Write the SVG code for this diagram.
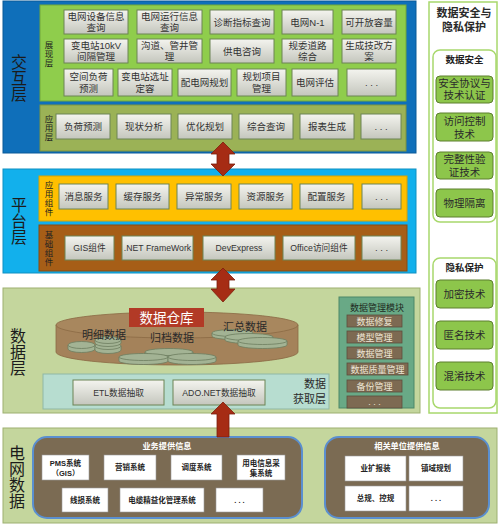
<svg xmlns="http://www.w3.org/2000/svg" width="500" height="525" viewBox="0 0 500 525">
<defs>
<linearGradient id="gb" x1="0" y1="0" x2="0" y2="1"><stop offset="0" stop-color="#f4f4ef"/><stop offset="1" stop-color="#c4c6bd"/></linearGradient>
</defs>
<style>
text{font-family:"Liberation Sans","Noto Sans CJK SC",sans-serif;}
.btn{fill:url(#gb);stroke:#6c8454;stroke-width:1;}
.bt{font-size:9.5px;fill:#333;text-anchor:middle;}
.bl{font-size:8.7px;fill:#333;text-anchor:middle;}
.big{font-size:16px;fill:#1b1b1b;text-anchor:middle;}
.sm{font-size:8.5px;fill:#222;text-anchor:middle;}
.disk{fill:#a3b394;stroke:#6d7d5f;stroke-width:0.8;}
.lbl{font-size:11px;fill:#2a2a2a;text-anchor:middle;}
.mi{fill:#7d6a52;stroke:#5c4e3c;stroke-width:0.8;}
.mt{font-size:9px;fill:#eee6d6;text-anchor:middle;}
.wb{fill:#fff;stroke:#9a9a9a;stroke-width:0.6;}
.wt{font-size:7.5px;fill:#222;font-weight:bold;text-anchor:middle;}
.biz{fill:#7b6b53;stroke:#5a8fd0;stroke-width:2;}
.bzt{font-size:8.2px;fill:#fff;font-weight:bold;text-anchor:middle;}
.gbx{fill:#8dc64b;stroke:#5d7f2f;stroke-width:1;}
.gt{font-size:10.5px;fill:#2b2b2b;text-anchor:middle;}
.pan{fill:#fff;stroke:#a8d86c;stroke-width:1.5;}
.arr{fill:#a62c14;stroke:#7c1f0c;stroke-width:0.8;}
</style>

<g id="layer-interaction">
<rect x="3" y="1" width="413" height="152" fill="#0f6fba" stroke="#0b5a98"/>
<text class="big"><tspan x="19" y="68">交</tspan><tspan x="19" y="84">互</tspan><tspan x="19" y="100">层</tspan></text>
</g>

<g id="presentation">
<rect x="40" y="5" width="366" height="96" fill="#8fcd4c" stroke="#72a83a"/>
<text class="sm"><tspan x="49" y="48">展</tspan><tspan x="49" y="57">现</tspan><tspan x="49" y="66">层</tspan></text>
<rect class="btn" x="64" y="10" width="64" height="24"/><text class="bt"><tspan x="96" y="20">电网设备信息</tspan><tspan x="96" y="31">查询</tspan></text>
<rect class="btn" x="137" y="10" width="65" height="24"/><text class="bt"><tspan x="169.5" y="20">电网运行信息</tspan><tspan x="169.5" y="31">查询</tspan></text>
<rect class="btn" x="210" y="10" width="64" height="24"/><text class="bt" x="242" y="26">诊断指标查询</text>
<rect class="btn" x="282" y="10" width="51" height="24"/><text class="bt" x="307.5" y="26">电网N-1</text>
<rect class="btn" x="342" y="10" width="54" height="24"/><text class="bt" x="369" y="26">可开放容量</text>
<rect class="btn" x="64" y="39" width="64" height="24"/><text class="bt"><tspan x="96" y="49">变电站10kV</tspan><tspan x="96" y="60">间隔管理</tspan></text>
<rect class="btn" x="137" y="39" width="65" height="24"/><text class="bt"><tspan x="169.5" y="49">沟道、管井管</tspan><tspan x="169.5" y="60">理</tspan></text>
<rect class="btn" x="210" y="39" width="64" height="24"/><text class="bt" x="242" y="55">供电咨询</text>
<rect class="btn" x="282" y="39" width="51" height="24"/><text class="bt"><tspan x="307.5" y="49">规委道路</tspan><tspan x="307.5" y="60">综合</tspan></text>
<rect class="btn" x="342" y="39" width="54" height="24"/><text class="bt"><tspan x="369" y="49">生成技改方</tspan><tspan x="369" y="60">案</tspan></text>
<rect class="btn" x="64" y="69" width="49" height="27"/><text class="bt"><tspan x="88.5" y="80">空间负荷</tspan><tspan x="88.5" y="92">预测</tspan></text>
<rect class="btn" x="118" y="69" width="54" height="27"/><text class="bt"><tspan x="145" y="80">变电站选址</tspan><tspan x="145" y="92">定容</tspan></text>
<rect class="btn" x="178" y="69" width="53" height="27"/><text class="bt" x="204.5" y="86">配电网规划</text>
<rect class="btn" x="237" y="69" width="49" height="27"/><text class="bt"><tspan x="261.5" y="80">规划项目</tspan><tspan x="261.5" y="92">管理</tspan></text>
<rect class="btn" x="292" y="69" width="46" height="27"/><text class="bt" x="315" y="86">电网评估</text>
<rect class="btn" x="347" y="69" width="49" height="27"/><text class="bt" x="371.5" y="86">. . .</text>
</g>

<g id="application">
<rect x="40" y="105" width="366" height="46" fill="#9bb256" stroke="#7e953e"/>
<text class="sm"><tspan x="49" y="122">应</tspan><tspan x="49" y="131">用</tspan><tspan x="49" y="140">层</tspan></text>
<rect class="btn" x="56" y="114" width="54" height="25"/><text class="bt" x="83" y="130">负荷预测</text>
<rect class="btn" x="117" y="114" width="54" height="25"/><text class="bt" x="144" y="130">现状分析</text>
<rect class="btn" x="178" y="114" width="54" height="25"/><text class="bt" x="205" y="130">优化规划</text>
<rect class="btn" x="239" y="114" width="54" height="25"/><text class="bt" x="266" y="130">综合查询</text>
<rect class="btn" x="300" y="114" width="54" height="25"/><text class="bt" x="327" y="130">报表生成</text>
<rect class="btn" x="361" y="114" width="40" height="25"/><text class="bt" x="381" y="130">. . .</text>
</g>

<g id="layer-platform">
<rect x="3" y="169" width="413" height="104" fill="#12b0ec" stroke="#0e90c2"/>
<text class="big"><tspan x="19" y="211">平</tspan><tspan x="19" y="227">台</tspan><tspan x="19" y="243">层</tspan></text>
</g>

<g id="app-components">
<rect x="39" y="176" width="368" height="45" fill="#ffc000" stroke="#d9a200"/>
<text class="sm"><tspan x="49" y="188">应</tspan><tspan x="49" y="197">用</tspan><tspan x="49" y="206">组</tspan><tspan x="49" y="215">件</tspan></text>
<rect class="btn" x="59" y="184" width="49" height="25"/><text class="bt" x="83.5" y="200">消息服务</text>
<rect class="btn" x="116" y="184" width="53" height="25"/><text class="bt" x="142.5" y="200">缓存服务</text>
<rect class="btn" x="177" y="184" width="54" height="25"/><text class="bt" x="204" y="200">异常服务</text>
<rect class="btn" x="239" y="184" width="53" height="25"/><text class="bt" x="265.5" y="200">资源服务</text>
<rect class="btn" x="300" y="184" width="53" height="25"/><text class="bt" x="326.5" y="200">配置服务</text>
<rect class="btn" x="362" y="184" width="39" height="25"/><text class="bt" x="381.5" y="200">. . .</text>
</g>

<g id="base-components">
<rect x="39" y="225" width="368" height="46" fill="#a65e17" stroke="#874b10"/>
<text class="sm"><tspan x="49" y="238">基</tspan><tspan x="49" y="247">础</tspan><tspan x="49" y="256">组</tspan><tspan x="49" y="265">件</tspan></text>
<rect class="btn" x="65" y="236" width="49" height="24"/><text class="bl" x="89.5" y="251">GIS组件</text>
<rect class="btn" x="122" y="236" width="71" height="24"/><text class="bl" x="157.5" y="251" font-size="8">.NET FrameWork</text>
<rect class="btn" x="203" y="236" width="72" height="24"/><text class="bl" x="239" y="251">DevExpress</text>
<rect class="btn" x="283" y="236" width="72" height="24"/><text class="bl" x="319" y="251">Office访问组件</text>
<rect class="btn" x="362" y="236" width="39" height="24"/><text class="bt" x="381.5" y="251">. . .</text>
</g>

<g id="layer-data">
<rect x="3" y="288" width="417" height="125" fill="#c4d69d" stroke="#9db071"/>
<text class="big"><tspan x="18" y="342">数</tspan><tspan x="18" y="358">据</tspan><tspan x="18" y="374">层</tspan></text>
</g>

<g id="data-warehouse">
<path d="M56,325 L56,352 A121,13 0 0 0 298,352 L298,325 Z" fill="#a4825a" stroke="#8a6a44" stroke-width="0.8"/>
<ellipse cx="177" cy="325" rx="121" ry="13" fill="#a8875e" stroke="#8a6a44" stroke-width="0.8"/>
<path class="disk" d="M68,345 v4 a13.5,3.5 0 0 0 27,0 v-4 Z"/><ellipse class="disk" cx="81.5" cy="345" rx="13.5" ry="3.5"/>
<path class="disk" d="M95,346 v4 a13,3.5 0 0 0 26,0 v-4 Z"/><ellipse class="disk" cx="108" cy="346" rx="13" ry="3.5"/>
<path class="disk" d="M95,340 v3 a13,3.5 0 0 0 26,0 v-3 Z"/><ellipse class="disk" cx="108" cy="340" rx="13" ry="3.5"/>
<path class="disk" d="M145,352 v3 a24,3.5 0 0 0 48,0 v-3 Z"/><ellipse class="disk" cx="169" cy="352" rx="24" ry="3.5"/>
<path class="disk" d="M119,357 v4 a24.5,3.5 0 0 0 49,0 v-4 Z"/><ellipse class="disk" cx="143.5" cy="357" rx="24.5" ry="3.5"/>
<path class="disk" d="M168,357 v4 a24,3.5 0 0 0 48,0 v-4 Z"/><ellipse class="disk" cx="192" cy="357" rx="24" ry="3.5"/>
<path class="disk" d="M212,333 v3 a20.5,3.5 0 0 0 41,0 v-3 Z"/><ellipse class="disk" cx="232.5" cy="333" rx="20.5" ry="3.5"/>
<path class="disk" d="M225,337 v3 a24,3.5 0 0 0 48,0 v-3 Z"/><ellipse class="disk" cx="249" cy="337" rx="24" ry="3.5"/>
<path class="disk" d="M238,341 v4 a24.5,3.5 0 0 0 49,0 v-4 Z"/><ellipse class="disk" cx="262.5" cy="341" rx="24.5" ry="3.5"/>
<rect x="129" y="308" width="75" height="19" fill="#b23a26"/>
<text x="166.5" y="322.5" font-size="13.5" fill="#fff" text-anchor="middle">数据仓库</text>
<text class="lbl" x="104" y="339">明细数据</text>
<text class="lbl" x="172" y="342">归档数据</text>
<text class="lbl" x="245" y="331">汇总数据</text>
</g>

<g id="data-acquisition">
<rect x="43" y="374" width="286" height="35" fill="#b7ddd0" stroke="#8fb7a5"/>
<rect class="btn" x="73" y="380" width="91" height="25"/><text class="bl" x="118.5" y="396">ETL数据抽取</text>
<rect class="btn" x="173" y="380" width="92" height="25"/><text class="bl" x="219" y="396">ADO.NET数据抽取</text>
<text x="326" y="388" font-size="11" fill="#2a2a2a" text-anchor="end">数据</text>
<text x="326" y="403" font-size="11" fill="#2a2a2a" text-anchor="end">获取层</text>
</g>

<g id="data-management">
<rect x="339" y="297" width="75" height="111" fill="#69a986" stroke="#4d8768"/>
<text x="377" y="311" font-size="9" fill="#1e2a22" text-anchor="middle">数据管理模块</text>
<rect class="mi" x="347" y="315" width="55" height="12"/><text class="mt" x="374.5" y="324.5">数据修复</text>
<rect class="mi" x="347" y="331" width="55" height="12"/><text class="mt" x="374.5" y="340.5">模型管理</text>
<rect class="mi" x="347" y="347" width="55" height="12"/><text class="mt" x="374.5" y="356.5">数据管理</text>
<rect class="mi" x="347" y="363" width="61" height="12"/><text class="mt" x="377.5" y="372.5">数据质量管理</text>
<rect class="mi" x="347" y="380" width="55" height="12"/><text class="mt" x="374.5" y="389.5">备份管理</text>
<rect class="mi" x="347" y="396" width="55" height="12"/><text class="mt" x="374.5" y="405">. . .</text>
</g>

<g id="layer-grid">
<rect x="3" y="428" width="494" height="95" fill="#c4d69d" stroke="#9db071"/>
<text class="big"><tspan x="17" y="459">电</tspan><tspan x="17" y="475">网</tspan><tspan x="17" y="491">数</tspan><tspan x="17" y="507">据</tspan></text>
</g>

<g id="business-info">
<rect class="biz" x="33" y="437" width="269" height="81" rx="14"/>
<text class="bzt" x="167" y="449">业务提供信息</text>
<rect class="wb" x="42" y="455" width="47" height="25"/><text class="wt"><tspan x="65.5" y="466">PMS系统</tspan><tspan x="65.5" y="476">（GIS）</tspan></text>
<rect class="wb" x="104" y="455" width="52" height="25"/><text class="wt" x="130" y="470">营销系统</text>
<rect class="wb" x="171" y="455" width="51" height="25"/><text class="wt" x="196.5" y="470">调度系统</text>
<rect class="wb" x="237" y="455" width="48" height="25"/><text class="wt"><tspan x="261" y="466">用电信息采</tspan><tspan x="261" y="476">集系统</tspan></text>
<rect class="wb" x="62" y="488" width="46" height="24"/><text class="wt" x="85" y="503">线损系统</text>
<rect class="wb" x="120" y="488" width="84" height="24"/><text class="wt" x="162" y="503">电缆精益化管理系统</text>
<rect class="wb" x="216" y="488" width="47" height="24"/><text class="wt" x="239.5" y="503">. . .</text>
</g>

<g id="related-info">
<rect class="biz" x="325" y="437" width="164" height="81" rx="14"/>
<text class="bzt" x="407" y="449">相关单位提供信息</text>
<rect class="wb" x="345" y="456" width="61" height="25"/><text class="wt" x="375.5" y="471">业扩报装</text>
<rect class="wb" x="409" y="456" width="54" height="25"/><text class="wt" x="436" y="471">镇域规划</text>
<rect class="wb" x="345" y="486" width="61" height="25"/><text class="wt" x="375.5" y="501">总规、控规</text>
<rect class="wb" x="409" y="486" width="54" height="25"/><text class="wt" x="436" y="501">. . .</text>
</g>

<g id="security-panel">
<rect class="pan" x="429" y="2" width="68" height="411"/>
<text x="464" y="17" font-size="11" font-weight="bold" fill="#2a2a2a" text-anchor="middle">数据安全与</text>
<text x="464" y="31" font-size="11" font-weight="bold" fill="#2a2a2a" text-anchor="middle">隐私保护</text>
</g>

<g id="data-security">
<rect class="pan" x="433" y="50" width="63" height="172" rx="7"/>
<text x="464.5" y="63" font-size="9.5" font-weight="bold" fill="#222" text-anchor="middle">数据安全</text>
<rect class="gbx" x="436" y="76" width="57" height="27" rx="4"/><text class="gt" font-size="9.5"><tspan x="464.5" y="87">安全协议与</tspan><tspan x="464.5" y="99">技术认证</tspan></text>
<rect class="gbx" x="436" y="113" width="57" height="28" rx="4"/><text class="gt"><tspan x="464.5" y="125">访问控制</tspan><tspan x="464.5" y="138">技术</tspan></text>
<rect class="gbx" x="436" y="152" width="57" height="27" rx="4"/><text class="gt"><tspan x="464.5" y="163">完整性验</tspan><tspan x="464.5" y="176">证技术</tspan></text>
<rect class="gbx" x="436" y="189" width="57" height="28" rx="4"/><text class="gt" x="464.5" y="207">物理隔离</text>
</g>

<g id="privacy">
<rect class="pan" x="433" y="258" width="63" height="150" rx="7"/>
<text x="464.5" y="271" font-size="9.5" font-weight="bold" fill="#222" text-anchor="middle">隐私保护</text>
<rect class="gbx" x="436" y="280" width="57" height="28" rx="4"/><text class="gt" x="464.5" y="298">加密技术</text>
<rect class="gbx" x="436" y="321" width="57" height="28" rx="4"/><text class="gt" x="464.5" y="339">匿名技术</text>
<rect class="gbx" x="436" y="362" width="57" height="28" rx="4"/><text class="gt" x="464.5" y="380">混淆技术</text>
</g>

<g id="connectors">
<polygon class="arr" points="223,142 235,154 229,154 229,164 235,164 223,176 211,164 217,164 217,154 211,154"/>
<polygon class="arr" points="223,268 235,280 229,280 229,289 235,289 223,302 211,289 217,289 217,280 211,280"/>
<polygon class="arr" points="223,402 235,414 229,414 229,437 217,437 217,414 211,414"/>
</g>
</svg>
